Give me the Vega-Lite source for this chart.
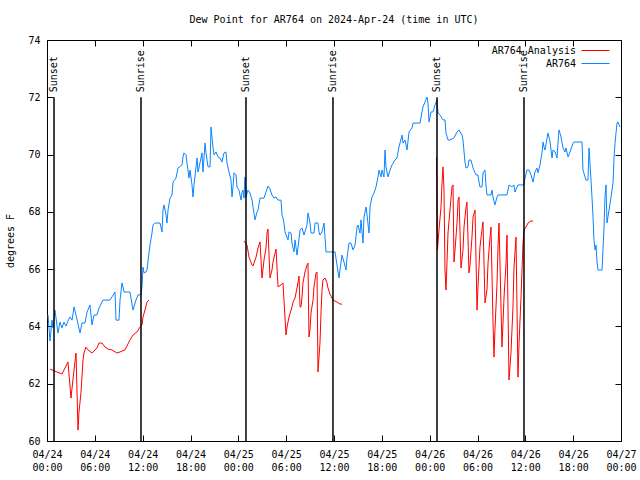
{
  "$schema": "https://vega.github.io/schema/vega-lite/v6.json",
  "autosize": "none",
  "width": 574,
  "height": 401,
  "padding": {"left": 47, "top": 40, "right": 19, "bottom": 39},
  "background": "white",
  "title": {"text": "Dew Point for AR764 on 2024-Apr-24 (time in UTC)", "font": "DejaVu Sans Mono", "fontSize": 10, "fontWeight": "normal", "color": "black", "offset": 10, "anchor": "middle"},
  "config": {
    "view": {"stroke": "black", "strokeWidth": 1},
    "font": "DejaVu Sans Mono",
    "axis": {"grid": false, "domain": false, "labelFont": "DejaVu Sans Mono", "labelFontSize": 10, "labelColor": "black", "tickColor": "black", "titleFont": "DejaVu Sans Mono", "titleFontSize": 10, "titleFontWeight": "normal", "titleColor": "black", "labelFlush": false, "labelOverlap": false}
  },
  "datasets": {
    "dew": [
      {"hour": 0.13, "dewpoint": 64.40, "series": "AR764", "segment": "obs"},
      {"hour": 0.38, "dewpoint": 63.49, "series": "AR764", "segment": "obs"},
      {"hour": 0.63, "dewpoint": 64.22, "series": "AR764", "segment": "obs"},
      {"hour": 0.75, "dewpoint": 63.95, "series": "AR764", "segment": "obs"},
      {"hour": 1.00, "dewpoint": 64.57, "series": "AR764", "segment": "obs"},
      {"hour": 1.38, "dewpoint": 63.77, "series": "AR764", "segment": "obs"},
      {"hour": 1.63, "dewpoint": 64.15, "series": "AR764", "segment": "obs"},
      {"hour": 1.88, "dewpoint": 63.95, "series": "AR764", "segment": "obs"},
      {"hour": 2.13, "dewpoint": 64.15, "series": "AR764", "segment": "obs"},
      {"hour": 2.38, "dewpoint": 64.01, "series": "AR764", "segment": "obs"},
      {"hour": 2.63, "dewpoint": 64.19, "series": "AR764", "segment": "obs"},
      {"hour": 2.89, "dewpoint": 64.33, "series": "AR764", "segment": "obs"},
      {"hour": 3.14, "dewpoint": 64.22, "series": "AR764", "segment": "obs"},
      {"hour": 3.39, "dewpoint": 64.68, "series": "AR764", "segment": "obs"},
      {"hour": 3.64, "dewpoint": 64.40, "series": "AR764", "segment": "obs"},
      {"hour": 4.14, "dewpoint": 63.77, "series": "AR764", "segment": "obs"},
      {"hour": 4.39, "dewpoint": 64.12, "series": "AR764", "segment": "obs"},
      {"hour": 4.77, "dewpoint": 64.12, "series": "AR764", "segment": "obs"},
      {"hour": 5.02, "dewpoint": 64.50, "series": "AR764", "segment": "obs"},
      {"hour": 5.39, "dewpoint": 64.75, "series": "AR764", "segment": "obs"},
      {"hour": 5.64, "dewpoint": 64.05, "series": "AR764", "segment": "obs"},
      {"hour": 5.90, "dewpoint": 64.40, "series": "AR764", "segment": "obs"},
      {"hour": 6.27, "dewpoint": 64.40, "series": "AR764", "segment": "obs"},
      {"hour": 6.52, "dewpoint": 64.64, "series": "AR764", "segment": "obs"},
      {"hour": 7.02, "dewpoint": 64.92, "series": "AR764", "segment": "obs"},
      {"hour": 7.90, "dewpoint": 64.92, "series": "AR764", "segment": "obs"},
      {"hour": 8.53, "dewpoint": 65.20, "series": "AR764", "segment": "obs"},
      {"hour": 8.66, "dewpoint": 64.22, "series": "AR764", "segment": "obs"},
      {"hour": 9.03, "dewpoint": 64.22, "series": "AR764", "segment": "obs"},
      {"hour": 9.16, "dewpoint": 64.92, "series": "AR764", "segment": "obs"},
      {"hour": 9.41, "dewpoint": 65.52, "series": "AR764", "segment": "obs"},
      {"hour": 9.66, "dewpoint": 65.20, "series": "AR764", "segment": "obs"},
      {"hour": 10.41, "dewpoint": 65.20, "series": "AR764", "segment": "obs"},
      {"hour": 10.79, "dewpoint": 64.57, "series": "AR764", "segment": "obs"},
      {"hour": 11.16, "dewpoint": 64.92, "series": "AR764", "segment": "obs"},
      {"hour": 11.42, "dewpoint": 65.10, "series": "AR764", "segment": "obs"},
      {"hour": 11.79, "dewpoint": 65.10, "series": "AR764", "segment": "obs"},
      {"hour": 11.92, "dewpoint": 65.38, "series": "AR764", "segment": "obs"},
      {"hour": 12.04, "dewpoint": 66.07, "series": "AR764", "segment": "obs"},
      {"hour": 12.17, "dewpoint": 65.87, "series": "AR764", "segment": "obs"},
      {"hour": 12.42, "dewpoint": 65.90, "series": "AR764", "segment": "obs"},
      {"hour": 12.54, "dewpoint": 65.97, "series": "AR764", "segment": "obs"},
      {"hour": 12.79, "dewpoint": 66.56, "series": "AR764", "segment": "obs"},
      {"hour": 12.92, "dewpoint": 66.84, "series": "AR764", "segment": "obs"},
      {"hour": 13.17, "dewpoint": 67.26, "series": "AR764", "segment": "obs"},
      {"hour": 13.30, "dewpoint": 67.54, "series": "AR764", "segment": "obs"},
      {"hour": 13.55, "dewpoint": 67.61, "series": "AR764", "segment": "obs"},
      {"hour": 14.17, "dewpoint": 67.61, "series": "AR764", "segment": "obs"},
      {"hour": 14.43, "dewpoint": 67.30, "series": "AR764", "segment": "obs"},
      {"hour": 14.55, "dewpoint": 68.06, "series": "AR764", "segment": "obs"},
      {"hour": 14.68, "dewpoint": 68.24, "series": "AR764", "segment": "obs"},
      {"hour": 14.93, "dewpoint": 67.89, "series": "AR764", "segment": "obs"},
      {"hour": 15.05, "dewpoint": 67.61, "series": "AR764", "segment": "obs"},
      {"hour": 15.18, "dewpoint": 68.06, "series": "AR764", "segment": "obs"},
      {"hour": 15.43, "dewpoint": 68.48, "series": "AR764", "segment": "obs"},
      {"hour": 15.68, "dewpoint": 68.59, "series": "AR764", "segment": "obs"},
      {"hour": 15.81, "dewpoint": 69.04, "series": "AR764", "segment": "obs"},
      {"hour": 16.18, "dewpoint": 69.18, "series": "AR764", "segment": "obs"},
      {"hour": 16.43, "dewpoint": 69.53, "series": "AR764", "segment": "obs"},
      {"hour": 16.68, "dewpoint": 69.57, "series": "AR764", "segment": "obs"},
      {"hour": 16.93, "dewpoint": 69.64, "series": "AR764", "segment": "obs"},
      {"hour": 17.06, "dewpoint": 69.92, "series": "AR764", "segment": "obs"},
      {"hour": 17.19, "dewpoint": 70.06, "series": "AR764", "segment": "obs"},
      {"hour": 17.44, "dewpoint": 69.99, "series": "AR764", "segment": "obs"},
      {"hour": 17.56, "dewpoint": 69.71, "series": "AR764", "segment": "obs"},
      {"hour": 17.81, "dewpoint": 69.18, "series": "AR764", "segment": "obs"},
      {"hour": 17.94, "dewpoint": 69.46, "series": "AR764", "segment": "obs"},
      {"hour": 18.19, "dewpoint": 68.94, "series": "AR764", "segment": "obs"},
      {"hour": 18.31, "dewpoint": 68.52, "series": "AR764", "segment": "obs"},
      {"hour": 18.44, "dewpoint": 68.94, "series": "AR764", "segment": "obs"},
      {"hour": 18.82, "dewpoint": 69.88, "series": "AR764", "segment": "obs"},
      {"hour": 18.94, "dewpoint": 69.39, "series": "AR764", "segment": "obs"},
      {"hour": 19.19, "dewpoint": 69.71, "series": "AR764", "segment": "obs"},
      {"hour": 19.44, "dewpoint": 70.06, "series": "AR764", "segment": "obs"},
      {"hour": 19.57, "dewpoint": 69.39, "series": "AR764", "segment": "obs"},
      {"hour": 19.82, "dewpoint": 70.40, "series": "AR764", "segment": "obs"},
      {"hour": 19.94, "dewpoint": 70.06, "series": "AR764", "segment": "obs"},
      {"hour": 20.20, "dewpoint": 69.57, "series": "AR764", "segment": "obs"},
      {"hour": 20.45, "dewpoint": 69.57, "series": "AR764", "segment": "obs"},
      {"hour": 20.57, "dewpoint": 70.96, "series": "AR764", "segment": "obs"},
      {"hour": 20.82, "dewpoint": 70.26, "series": "AR764", "segment": "obs"},
      {"hour": 20.95, "dewpoint": 69.99, "series": "AR764", "segment": "obs"},
      {"hour": 21.20, "dewpoint": 70.09, "series": "AR764", "segment": "obs"},
      {"hour": 21.45, "dewpoint": 69.92, "series": "AR764", "segment": "obs"},
      {"hour": 21.70, "dewpoint": 69.88, "series": "AR764", "segment": "obs"},
      {"hour": 21.95, "dewpoint": 69.74, "series": "AR764", "segment": "obs"},
      {"hour": 22.20, "dewpoint": 70.06, "series": "AR764", "segment": "obs"},
      {"hour": 22.45, "dewpoint": 70.09, "series": "AR764", "segment": "obs"},
      {"hour": 22.58, "dewpoint": 69.71, "series": "AR764", "segment": "obs"},
      {"hour": 22.83, "dewpoint": 69.39, "series": "AR764", "segment": "obs"},
      {"hour": 23.08, "dewpoint": 69.11, "series": "AR764", "segment": "obs"},
      {"hour": 23.21, "dewpoint": 68.52, "series": "AR764", "segment": "obs"},
      {"hour": 23.33, "dewpoint": 68.87, "series": "AR764", "segment": "obs"},
      {"hour": 23.46, "dewpoint": 69.36, "series": "AR764", "segment": "obs"},
      {"hour": 23.71, "dewpoint": 69.29, "series": "AR764", "segment": "obs"},
      {"hour": 23.83, "dewpoint": 68.87, "series": "AR764", "segment": "obs"},
      {"hour": 24.08, "dewpoint": 68.76, "series": "AR764", "segment": "obs"},
      {"hour": 24.34, "dewpoint": 68.41, "series": "AR764", "segment": "obs"},
      {"hour": 24.46, "dewpoint": 68.69, "series": "AR764", "segment": "obs"},
      {"hour": 24.59, "dewpoint": 68.76, "series": "AR764", "segment": "obs"},
      {"hour": 24.71, "dewpoint": 68.48, "series": "AR764", "segment": "obs"},
      {"hour": 24.84, "dewpoint": 69.22, "series": "AR764", "segment": "obs"},
      {"hour": 24.96, "dewpoint": 68.52, "series": "AR764", "segment": "obs"},
      {"hour": 25.21, "dewpoint": 68.76, "series": "AR764", "segment": "obs"},
      {"hour": 25.46, "dewpoint": 68.66, "series": "AR764", "segment": "obs"},
      {"hour": 25.72, "dewpoint": 68.41, "series": "AR764", "segment": "obs"},
      {"hour": 25.84, "dewpoint": 68.17, "series": "AR764", "segment": "obs"},
      {"hour": 26.09, "dewpoint": 67.72, "series": "AR764", "segment": "obs"},
      {"hour": 26.34, "dewpoint": 67.99, "series": "AR764", "segment": "obs"},
      {"hour": 26.47, "dewpoint": 68.06, "series": "AR764", "segment": "obs"},
      {"hour": 26.72, "dewpoint": 68.48, "series": "AR764", "segment": "obs"},
      {"hour": 27.22, "dewpoint": 68.48, "series": "AR764", "segment": "obs"},
      {"hour": 27.47, "dewpoint": 68.69, "series": "AR764", "segment": "obs"},
      {"hour": 27.72, "dewpoint": 68.90, "series": "AR764", "segment": "obs"},
      {"hour": 27.97, "dewpoint": 68.80, "series": "AR764", "segment": "obs"},
      {"hour": 28.22, "dewpoint": 68.59, "series": "AR764", "segment": "obs"},
      {"hour": 28.47, "dewpoint": 68.48, "series": "AR764", "segment": "obs"},
      {"hour": 28.73, "dewpoint": 68.52, "series": "AR764", "segment": "obs"},
      {"hour": 28.98, "dewpoint": 68.41, "series": "AR764", "segment": "obs"},
      {"hour": 29.35, "dewpoint": 68.41, "series": "AR764", "segment": "obs"},
      {"hour": 29.48, "dewpoint": 67.89, "series": "AR764", "segment": "obs"},
      {"hour": 29.60, "dewpoint": 67.79, "series": "AR764", "segment": "obs"},
      {"hour": 29.73, "dewpoint": 67.61, "series": "AR764", "segment": "obs"},
      {"hour": 29.85, "dewpoint": 67.30, "series": "AR764", "segment": "obs"},
      {"hour": 30.23, "dewpoint": 67.02, "series": "AR764", "segment": "obs"},
      {"hour": 30.36, "dewpoint": 67.30, "series": "AR764", "segment": "obs"},
      {"hour": 30.61, "dewpoint": 67.26, "series": "AR764", "segment": "obs"},
      {"hour": 30.73, "dewpoint": 66.91, "series": "AR764", "segment": "obs"},
      {"hour": 30.98, "dewpoint": 66.60, "series": "AR764", "segment": "obs"},
      {"hour": 31.11, "dewpoint": 67.02, "series": "AR764", "segment": "obs"},
      {"hour": 31.36, "dewpoint": 66.49, "series": "AR764", "segment": "obs"},
      {"hour": 31.49, "dewpoint": 66.77, "series": "AR764", "segment": "obs"},
      {"hour": 31.74, "dewpoint": 67.37, "series": "AR764", "segment": "obs"},
      {"hour": 31.99, "dewpoint": 67.44, "series": "AR764", "segment": "obs"},
      {"hour": 32.24, "dewpoint": 67.19, "series": "AR764", "segment": "obs"},
      {"hour": 32.61, "dewpoint": 67.54, "series": "AR764", "segment": "obs"},
      {"hour": 32.74, "dewpoint": 67.96, "series": "AR764", "segment": "obs"},
      {"hour": 32.99, "dewpoint": 67.61, "series": "AR764", "segment": "obs"},
      {"hour": 33.12, "dewpoint": 67.26, "series": "AR764", "segment": "obs"},
      {"hour": 33.49, "dewpoint": 67.26, "series": "AR764", "segment": "obs"},
      {"hour": 33.62, "dewpoint": 67.61, "series": "AR764", "segment": "obs"},
      {"hour": 33.99, "dewpoint": 67.61, "series": "AR764", "segment": "obs"},
      {"hour": 34.12, "dewpoint": 67.30, "series": "AR764", "segment": "obs"},
      {"hour": 34.24, "dewpoint": 67.19, "series": "AR764", "segment": "obs"},
      {"hour": 34.50, "dewpoint": 67.30, "series": "AR764", "segment": "obs"},
      {"hour": 34.75, "dewpoint": 67.61, "series": "AR764", "segment": "obs"},
      {"hour": 34.87, "dewpoint": 67.12, "series": "AR764", "segment": "obs"},
      {"hour": 35.00, "dewpoint": 66.60, "series": "AR764", "segment": "obs"},
      {"hour": 36.13, "dewpoint": 66.60, "series": "AR764", "segment": "obs"},
      {"hour": 36.38, "dewpoint": 66.14, "series": "AR764", "segment": "obs"},
      {"hour": 36.63, "dewpoint": 65.69, "series": "AR764", "segment": "obs"},
      {"hour": 36.75, "dewpoint": 65.97, "series": "AR764", "segment": "obs"},
      {"hour": 37.00, "dewpoint": 66.49, "series": "AR764", "segment": "obs"},
      {"hour": 37.25, "dewpoint": 66.25, "series": "AR764", "segment": "obs"},
      {"hour": 37.51, "dewpoint": 65.97, "series": "AR764", "segment": "obs"},
      {"hour": 37.63, "dewpoint": 66.39, "series": "AR764", "segment": "obs"},
      {"hour": 37.88, "dewpoint": 66.91, "series": "AR764", "segment": "obs"},
      {"hour": 38.13, "dewpoint": 66.91, "series": "AR764", "segment": "obs"},
      {"hour": 38.38, "dewpoint": 66.67, "series": "AR764", "segment": "obs"},
      {"hour": 38.64, "dewpoint": 66.84, "series": "AR764", "segment": "obs"},
      {"hour": 38.89, "dewpoint": 67.47, "series": "AR764", "segment": "obs"},
      {"hour": 39.01, "dewpoint": 67.54, "series": "AR764", "segment": "obs"},
      {"hour": 39.26, "dewpoint": 67.26, "series": "AR764", "segment": "obs"},
      {"hour": 39.39, "dewpoint": 67.72, "series": "AR764", "segment": "obs"},
      {"hour": 39.64, "dewpoint": 66.91, "series": "AR764", "segment": "obs"},
      {"hour": 39.76, "dewpoint": 67.82, "series": "AR764", "segment": "obs"},
      {"hour": 40.02, "dewpoint": 68.17, "series": "AR764", "segment": "obs"},
      {"hour": 40.14, "dewpoint": 67.89, "series": "AR764", "segment": "obs"},
      {"hour": 40.39, "dewpoint": 67.26, "series": "AR764", "segment": "obs"},
      {"hour": 40.52, "dewpoint": 68.17, "series": "AR764", "segment": "obs"},
      {"hour": 40.77, "dewpoint": 68.52, "series": "AR764", "segment": "obs"},
      {"hour": 41.02, "dewpoint": 68.66, "series": "AR764", "segment": "obs"},
      {"hour": 41.27, "dewpoint": 68.87, "series": "AR764", "segment": "obs"},
      {"hour": 41.52, "dewpoint": 69.22, "series": "AR764", "segment": "obs"},
      {"hour": 41.65, "dewpoint": 69.46, "series": "AR764", "segment": "obs"},
      {"hour": 41.90, "dewpoint": 69.22, "series": "AR764", "segment": "obs"},
      {"hour": 42.02, "dewpoint": 69.46, "series": "AR764", "segment": "obs"},
      {"hour": 42.27, "dewpoint": 69.22, "series": "AR764", "segment": "obs"},
      {"hour": 42.40, "dewpoint": 70.16, "series": "AR764", "segment": "obs"},
      {"hour": 42.52, "dewpoint": 69.57, "series": "AR764", "segment": "obs"},
      {"hour": 42.77, "dewpoint": 69.22, "series": "AR764", "segment": "obs"},
      {"hour": 43.03, "dewpoint": 69.46, "series": "AR764", "segment": "obs"},
      {"hour": 43.28, "dewpoint": 69.64, "series": "AR764", "segment": "obs"},
      {"hour": 43.65, "dewpoint": 69.81, "series": "AR764", "segment": "obs"},
      {"hour": 43.90, "dewpoint": 69.88, "series": "AR764", "segment": "obs"},
      {"hour": 44.15, "dewpoint": 70.26, "series": "AR764", "segment": "obs"},
      {"hour": 44.53, "dewpoint": 70.68, "series": "AR764", "segment": "obs"},
      {"hour": 44.66, "dewpoint": 70.40, "series": "AR764", "segment": "obs"},
      {"hour": 44.91, "dewpoint": 70.51, "series": "AR764", "segment": "obs"},
      {"hour": 45.16, "dewpoint": 70.16, "series": "AR764", "segment": "obs"},
      {"hour": 45.41, "dewpoint": 70.79, "series": "AR764", "segment": "obs"},
      {"hour": 45.79, "dewpoint": 70.93, "series": "AR764", "segment": "obs"},
      {"hour": 45.91, "dewpoint": 71.10, "series": "AR764", "segment": "obs"},
      {"hour": 46.79, "dewpoint": 71.10, "series": "AR764", "segment": "obs"},
      {"hour": 47.04, "dewpoint": 71.49, "series": "AR764", "segment": "obs"},
      {"hour": 47.16, "dewpoint": 71.66, "series": "AR764", "segment": "obs"},
      {"hour": 47.42, "dewpoint": 71.84, "series": "AR764", "segment": "obs"},
      {"hour": 47.67, "dewpoint": 72.01, "series": "AR764", "segment": "obs"},
      {"hour": 47.79, "dewpoint": 71.80, "series": "AR764", "segment": "obs"},
      {"hour": 47.92, "dewpoint": 71.14, "series": "AR764", "segment": "obs"},
      {"hour": 48.17, "dewpoint": 71.49, "series": "AR764", "segment": "obs"},
      {"hour": 48.42, "dewpoint": 71.49, "series": "AR764", "segment": "obs"},
      {"hour": 48.67, "dewpoint": 71.73, "series": "AR764", "segment": "obs"},
      {"hour": 48.92, "dewpoint": 71.91, "series": "AR764", "segment": "obs"},
      {"hour": 49.05, "dewpoint": 71.45, "series": "AR764", "segment": "obs"},
      {"hour": 49.30, "dewpoint": 71.38, "series": "AR764", "segment": "obs"},
      {"hour": 49.67, "dewpoint": 71.21, "series": "AR764", "segment": "obs"},
      {"hour": 49.92, "dewpoint": 71.21, "series": "AR764", "segment": "obs"},
      {"hour": 50.05, "dewpoint": 70.75, "series": "AR764", "segment": "obs"},
      {"hour": 50.30, "dewpoint": 70.51, "series": "AR764", "segment": "obs"},
      {"hour": 50.55, "dewpoint": 70.51, "series": "AR764", "segment": "obs"},
      {"hour": 51.05, "dewpoint": 70.58, "series": "AR764", "segment": "obs"},
      {"hour": 51.43, "dewpoint": 70.79, "series": "AR764", "segment": "obs"},
      {"hour": 51.68, "dewpoint": 70.86, "series": "AR764", "segment": "obs"},
      {"hour": 52.06, "dewpoint": 70.68, "series": "AR764", "segment": "obs"},
      {"hour": 52.18, "dewpoint": 70.51, "series": "AR764", "segment": "obs"},
      {"hour": 52.43, "dewpoint": 69.74, "series": "AR764", "segment": "obs"},
      {"hour": 52.56, "dewpoint": 69.53, "series": "AR764", "segment": "obs"},
      {"hour": 52.81, "dewpoint": 69.57, "series": "AR764", "segment": "obs"},
      {"hour": 52.93, "dewpoint": 69.81, "series": "AR764", "segment": "obs"},
      {"hour": 53.18, "dewpoint": 69.81, "series": "AR764", "segment": "obs"},
      {"hour": 53.44, "dewpoint": 69.53, "series": "AR764", "segment": "obs"},
      {"hour": 53.81, "dewpoint": 69.29, "series": "AR764", "segment": "obs"},
      {"hour": 54.06, "dewpoint": 69.29, "series": "AR764", "segment": "obs"},
      {"hour": 54.19, "dewpoint": 69.04, "series": "AR764", "segment": "obs"},
      {"hour": 54.31, "dewpoint": 68.87, "series": "AR764", "segment": "obs"},
      {"hour": 54.56, "dewpoint": 68.87, "series": "AR764", "segment": "obs"},
      {"hour": 54.69, "dewpoint": 69.36, "series": "AR764", "segment": "obs"},
      {"hour": 54.94, "dewpoint": 69.46, "series": "AR764", "segment": "obs"},
      {"hour": 55.06, "dewpoint": 68.94, "series": "AR764", "segment": "obs"},
      {"hour": 55.19, "dewpoint": 68.59, "series": "AR764", "segment": "obs"},
      {"hour": 55.69, "dewpoint": 68.59, "series": "AR764", "segment": "obs"},
      {"hour": 55.82, "dewpoint": 68.76, "series": "AR764", "segment": "obs"},
      {"hour": 55.94, "dewpoint": 68.52, "series": "AR764", "segment": "obs"},
      {"hour": 56.19, "dewpoint": 68.24, "series": "AR764", "segment": "obs"},
      {"hour": 56.45, "dewpoint": 68.52, "series": "AR764", "segment": "obs"},
      {"hour": 56.57, "dewpoint": 68.59, "series": "AR764", "segment": "obs"},
      {"hour": 57.70, "dewpoint": 68.59, "series": "AR764", "segment": "obs"},
      {"hour": 57.95, "dewpoint": 68.94, "series": "AR764", "segment": "obs"},
      {"hour": 58.32, "dewpoint": 68.87, "series": "AR764", "segment": "obs"},
      {"hour": 58.57, "dewpoint": 68.94, "series": "AR764", "segment": "obs"},
      {"hour": 58.70, "dewpoint": 68.69, "series": "AR764", "segment": "obs"},
      {"hour": 58.96, "dewpoint": 68.87, "series": "AR764", "segment": "obs"},
      {"hour": 59.08, "dewpoint": 68.94, "series": "AR764", "segment": "obs"},
      {"hour": 59.83, "dewpoint": 68.94, "series": "AR764", "segment": "obs"},
      {"hour": 59.96, "dewpoint": 69.18, "series": "AR764", "segment": "obs"},
      {"hour": 60.21, "dewpoint": 69.46, "series": "AR764", "segment": "obs"},
      {"hour": 60.46, "dewpoint": 69.46, "series": "AR764", "segment": "obs"},
      {"hour": 60.71, "dewpoint": 69.29, "series": "AR764", "segment": "obs"},
      {"hour": 60.96, "dewpoint": 69.04, "series": "AR764", "segment": "obs"},
      {"hour": 61.21, "dewpoint": 69.39, "series": "AR764", "segment": "obs"},
      {"hour": 61.46, "dewpoint": 69.53, "series": "AR764", "segment": "obs"},
      {"hour": 61.59, "dewpoint": 69.36, "series": "AR764", "segment": "obs"},
      {"hour": 61.84, "dewpoint": 69.64, "series": "AR764", "segment": "obs"},
      {"hour": 62.09, "dewpoint": 70.06, "series": "AR764", "segment": "obs"},
      {"hour": 62.22, "dewpoint": 70.44, "series": "AR764", "segment": "obs"},
      {"hour": 62.34, "dewpoint": 70.26, "series": "AR764", "segment": "obs"},
      {"hour": 62.47, "dewpoint": 70.16, "series": "AR764", "segment": "obs"},
      {"hour": 62.72, "dewpoint": 70.58, "series": "AR764", "segment": "obs"},
      {"hour": 62.85, "dewpoint": 70.75, "series": "AR764", "segment": "obs"},
      {"hour": 63.10, "dewpoint": 70.44, "series": "AR764", "segment": "obs"},
      {"hour": 63.35, "dewpoint": 69.88, "series": "AR764", "segment": "obs"},
      {"hour": 63.47, "dewpoint": 70.16, "series": "AR764", "segment": "obs"},
      {"hour": 63.73, "dewpoint": 70.09, "series": "AR764", "segment": "obs"},
      {"hour": 63.98, "dewpoint": 69.88, "series": "AR764", "segment": "obs"},
      {"hour": 64.10, "dewpoint": 70.44, "series": "AR764", "segment": "obs"},
      {"hour": 64.23, "dewpoint": 70.86, "series": "AR764", "segment": "obs"},
      {"hour": 64.48, "dewpoint": 70.61, "series": "AR764", "segment": "obs"},
      {"hour": 64.73, "dewpoint": 70.23, "series": "AR764", "segment": "obs"},
      {"hour": 64.98, "dewpoint": 70.09, "series": "AR764", "segment": "obs"},
      {"hour": 65.10, "dewpoint": 70.23, "series": "AR764", "segment": "obs"},
      {"hour": 65.36, "dewpoint": 69.92, "series": "AR764", "segment": "obs"},
      {"hour": 65.61, "dewpoint": 70.09, "series": "AR764", "segment": "obs"},
      {"hour": 65.98, "dewpoint": 70.40, "series": "AR764", "segment": "obs"},
      {"hour": 66.11, "dewpoint": 70.44, "series": "AR764", "segment": "obs"},
      {"hour": 67.11, "dewpoint": 70.44, "series": "AR764", "segment": "obs"},
      {"hour": 67.23, "dewpoint": 69.46, "series": "AR764", "segment": "obs"},
      {"hour": 67.61, "dewpoint": 69.11, "series": "AR764", "segment": "obs"},
      {"hour": 67.86, "dewpoint": 69.11, "series": "AR764", "segment": "obs"},
      {"hour": 67.99, "dewpoint": 70.23, "series": "AR764", "segment": "obs"},
      {"hour": 68.11, "dewpoint": 69.71, "series": "AR764", "segment": "obs"},
      {"hour": 68.36, "dewpoint": 68.52, "series": "AR764", "segment": "obs"},
      {"hour": 68.49, "dewpoint": 67.82, "series": "AR764", "segment": "obs"},
      {"hour": 68.61, "dewpoint": 67.02, "series": "AR764", "segment": "obs"},
      {"hour": 68.74, "dewpoint": 66.67, "series": "AR764", "segment": "obs"},
      {"hour": 68.87, "dewpoint": 66.84, "series": "AR764", "segment": "obs"},
      {"hour": 68.99, "dewpoint": 66.25, "series": "AR764", "segment": "obs"},
      {"hour": 69.12, "dewpoint": 65.97, "series": "AR764", "segment": "obs"},
      {"hour": 69.62, "dewpoint": 65.97, "series": "AR764", "segment": "obs"},
      {"hour": 69.74, "dewpoint": 66.67, "series": "AR764", "segment": "obs"},
      {"hour": 69.87, "dewpoint": 67.47, "series": "AR764", "segment": "obs"},
      {"hour": 69.99, "dewpoint": 68.52, "series": "AR764", "segment": "obs"},
      {"hour": 70.12, "dewpoint": 68.94, "series": "AR764", "segment": "obs"},
      {"hour": 70.24, "dewpoint": 67.61, "series": "AR764", "segment": "obs"},
      {"hour": 70.50, "dewpoint": 68.06, "series": "AR764", "segment": "obs"},
      {"hour": 70.75, "dewpoint": 68.52, "series": "AR764", "segment": "obs"},
      {"hour": 71.00, "dewpoint": 69.01, "series": "AR764", "segment": "obs"},
      {"hour": 71.13, "dewpoint": 69.92, "series": "AR764", "segment": "obs"},
      {"hour": 71.25, "dewpoint": 70.40, "series": "AR764", "segment": "obs"},
      {"hour": 71.50, "dewpoint": 71.10, "series": "AR764", "segment": "obs"},
      {"hour": 71.62, "dewpoint": 71.14, "series": "AR764", "segment": "obs"},
      {"hour": 71.88, "dewpoint": 70.96, "series": "AR764", "segment": "obs"},

      {"hour": 0.38, "dewpoint": 62.51, "series": "AR764 Analysis", "segment": "an1"},
      {"hour": 1.25, "dewpoint": 62.41, "series": "AR764 Analysis", "segment": "an1"},
      {"hour": 1.88, "dewpoint": 62.34, "series": "AR764 Analysis", "segment": "an1"},
      {"hour": 2.26, "dewpoint": 62.55, "series": "AR764 Analysis", "segment": "an1"},
      {"hour": 2.63, "dewpoint": 62.76, "series": "AR764 Analysis", "segment": "an1"},
      {"hour": 3.01, "dewpoint": 61.50, "series": "AR764 Analysis", "segment": "an1"},
      {"hour": 3.14, "dewpoint": 61.85, "series": "AR764 Analysis", "segment": "an1"},
      {"hour": 3.39, "dewpoint": 62.48, "series": "AR764 Analysis", "segment": "an1"},
      {"hour": 3.64, "dewpoint": 63.07, "series": "AR764 Analysis", "segment": "an1"},
      {"hour": 3.89, "dewpoint": 60.38, "series": "AR764 Analysis", "segment": "an1"},
      {"hour": 4.01, "dewpoint": 61.01, "series": "AR764 Analysis", "segment": "an1"},
      {"hour": 4.26, "dewpoint": 61.68, "series": "AR764 Analysis", "segment": "an1"},
      {"hour": 4.52, "dewpoint": 62.83, "series": "AR764 Analysis", "segment": "an1"},
      {"hour": 4.64, "dewpoint": 63.07, "series": "AR764 Analysis", "segment": "an1"},
      {"hour": 4.89, "dewpoint": 63.28, "series": "AR764 Analysis", "segment": "an1"},
      {"hour": 5.14, "dewpoint": 63.18, "series": "AR764 Analysis", "segment": "an1"},
      {"hour": 5.64, "dewpoint": 63.07, "series": "AR764 Analysis", "segment": "an1"},
      {"hour": 6.27, "dewpoint": 63.25, "series": "AR764 Analysis", "segment": "an1"},
      {"hour": 6.52, "dewpoint": 63.42, "series": "AR764 Analysis", "segment": "an1"},
      {"hour": 6.90, "dewpoint": 63.42, "series": "AR764 Analysis", "segment": "an1"},
      {"hour": 7.28, "dewpoint": 63.28, "series": "AR764 Analysis", "segment": "an1"},
      {"hour": 7.65, "dewpoint": 63.21, "series": "AR764 Analysis", "segment": "an1"},
      {"hour": 8.15, "dewpoint": 63.18, "series": "AR764 Analysis", "segment": "an1"},
      {"hour": 8.78, "dewpoint": 63.07, "series": "AR764 Analysis", "segment": "an1"},
      {"hour": 9.16, "dewpoint": 63.11, "series": "AR764 Analysis", "segment": "an1"},
      {"hour": 9.78, "dewpoint": 63.18, "series": "AR764 Analysis", "segment": "an1"},
      {"hour": 10.41, "dewpoint": 63.53, "series": "AR764 Analysis", "segment": "an1"},
      {"hour": 10.79, "dewpoint": 63.70, "series": "AR764 Analysis", "segment": "an1"},
      {"hour": 11.29, "dewpoint": 63.81, "series": "AR764 Analysis", "segment": "an1"},
      {"hour": 11.67, "dewpoint": 63.98, "series": "AR764 Analysis", "segment": "an1"},
      {"hour": 11.92, "dewpoint": 64.05, "series": "AR764 Analysis", "segment": "an1"},
      {"hour": 12.04, "dewpoint": 64.33, "series": "AR764 Analysis", "segment": "an1"},
      {"hour": 12.29, "dewpoint": 64.57, "series": "AR764 Analysis", "segment": "an1"},
      {"hour": 12.54, "dewpoint": 64.85, "series": "AR764 Analysis", "segment": "an1"},
      {"hour": 12.79, "dewpoint": 64.92, "series": "AR764 Analysis", "segment": "an1"},

      {"hour": 24.71, "dewpoint": 66.98, "series": "AR764 Analysis", "segment": "an2"},
      {"hour": 25.09, "dewpoint": 66.84, "series": "AR764 Analysis", "segment": "an2"},
      {"hour": 25.34, "dewpoint": 66.42, "series": "AR764 Analysis", "segment": "an2"},
      {"hour": 25.72, "dewpoint": 66.14, "series": "AR764 Analysis", "segment": "an2"},
      {"hour": 25.84, "dewpoint": 66.11, "series": "AR764 Analysis", "segment": "an2"},
      {"hour": 26.22, "dewpoint": 66.42, "series": "AR764 Analysis", "segment": "an2"},
      {"hour": 26.47, "dewpoint": 66.74, "series": "AR764 Analysis", "segment": "an2"},
      {"hour": 26.72, "dewpoint": 66.95, "series": "AR764 Analysis", "segment": "an2"},
      {"hour": 26.97, "dewpoint": 65.69, "series": "AR764 Analysis", "segment": "an2"},
      {"hour": 27.22, "dewpoint": 66.32, "series": "AR764 Analysis", "segment": "an2"},
      {"hour": 27.47, "dewpoint": 66.74, "series": "AR764 Analysis", "segment": "an2"},
      {"hour": 27.60, "dewpoint": 67.26, "series": "AR764 Analysis", "segment": "an2"},
      {"hour": 27.72, "dewpoint": 67.40, "series": "AR764 Analysis", "segment": "an2"},
      {"hour": 27.97, "dewpoint": 65.69, "series": "AR764 Analysis", "segment": "an2"},
      {"hour": 28.22, "dewpoint": 65.97, "series": "AR764 Analysis", "segment": "an2"},
      {"hour": 28.35, "dewpoint": 66.25, "series": "AR764 Analysis", "segment": "an2"},
      {"hour": 28.60, "dewpoint": 66.56, "series": "AR764 Analysis", "segment": "an2"},
      {"hour": 28.73, "dewpoint": 66.70, "series": "AR764 Analysis", "segment": "an2"},
      {"hour": 28.98, "dewpoint": 65.38, "series": "AR764 Analysis", "segment": "an2"},
      {"hour": 29.35, "dewpoint": 65.45, "series": "AR764 Analysis", "segment": "an2"},
      {"hour": 29.60, "dewpoint": 65.52, "series": "AR764 Analysis", "segment": "an2"},
      {"hour": 29.98, "dewpoint": 63.70, "series": "AR764 Analysis", "segment": "an2"},
      {"hour": 30.11, "dewpoint": 63.98, "series": "AR764 Analysis", "segment": "an2"},
      {"hour": 30.36, "dewpoint": 64.33, "series": "AR764 Analysis", "segment": "an2"},
      {"hour": 30.73, "dewpoint": 64.68, "series": "AR764 Analysis", "segment": "an2"},
      {"hour": 30.86, "dewpoint": 64.85, "series": "AR764 Analysis", "segment": "an2"},
      {"hour": 31.11, "dewpoint": 64.99, "series": "AR764 Analysis", "segment": "an2"},
      {"hour": 31.36, "dewpoint": 65.34, "series": "AR764 Analysis", "segment": "an2"},
      {"hour": 31.49, "dewpoint": 65.55, "series": "AR764 Analysis", "segment": "an2"},
      {"hour": 31.61, "dewpoint": 65.76, "series": "AR764 Analysis", "segment": "an2"},
      {"hour": 31.74, "dewpoint": 64.68, "series": "AR764 Analysis", "segment": "an2"},
      {"hour": 31.86, "dewpoint": 64.68, "series": "AR764 Analysis", "segment": "an2"},
      {"hour": 31.99, "dewpoint": 65.03, "series": "AR764 Analysis", "segment": "an2"},
      {"hour": 32.11, "dewpoint": 65.52, "series": "AR764 Analysis", "segment": "an2"},
      {"hour": 32.36, "dewpoint": 65.90, "series": "AR764 Analysis", "segment": "an2"},
      {"hour": 32.61, "dewpoint": 66.14, "series": "AR764 Analysis", "segment": "an2"},
      {"hour": 32.74, "dewpoint": 66.21, "series": "AR764 Analysis", "segment": "an2"},
      {"hour": 32.86, "dewpoint": 63.63, "series": "AR764 Analysis", "segment": "an2"},
      {"hour": 32.99, "dewpoint": 63.88, "series": "AR764 Analysis", "segment": "an2"},
      {"hour": 33.12, "dewpoint": 64.47, "series": "AR764 Analysis", "segment": "an2"},
      {"hour": 33.37, "dewpoint": 64.92, "series": "AR764 Analysis", "segment": "an2"},
      {"hour": 33.49, "dewpoint": 65.38, "series": "AR764 Analysis", "segment": "an2"},
      {"hour": 33.62, "dewpoint": 65.62, "series": "AR764 Analysis", "segment": "an2"},
      {"hour": 33.74, "dewpoint": 65.87, "series": "AR764 Analysis", "segment": "an2"},
      {"hour": 33.87, "dewpoint": 65.90, "series": "AR764 Analysis", "segment": "an2"},
      {"hour": 33.99, "dewpoint": 62.41, "series": "AR764 Analysis", "segment": "an2"},
      {"hour": 34.12, "dewpoint": 62.93, "series": "AR764 Analysis", "segment": "an2"},
      {"hour": 34.24, "dewpoint": 63.42, "series": "AR764 Analysis", "segment": "an2"},
      {"hour": 34.37, "dewpoint": 64.47, "series": "AR764 Analysis", "segment": "an2"},
      {"hour": 34.50, "dewpoint": 65.27, "series": "AR764 Analysis", "segment": "an2"},
      {"hour": 34.62, "dewpoint": 65.62, "series": "AR764 Analysis", "segment": "an2"},
      {"hour": 34.87, "dewpoint": 65.69, "series": "AR764 Analysis", "segment": "an2"},
      {"hour": 35.12, "dewpoint": 65.52, "series": "AR764 Analysis", "segment": "an2"},
      {"hour": 35.25, "dewpoint": 65.34, "series": "AR764 Analysis", "segment": "an2"},
      {"hour": 35.50, "dewpoint": 65.13, "series": "AR764 Analysis", "segment": "an2"},
      {"hour": 35.75, "dewpoint": 64.99, "series": "AR764 Analysis", "segment": "an2"},
      {"hour": 35.87, "dewpoint": 64.92, "series": "AR764 Analysis", "segment": "an2"},
      {"hour": 36.38, "dewpoint": 64.85, "series": "AR764 Analysis", "segment": "an2"},
      {"hour": 36.75, "dewpoint": 64.78, "series": "AR764 Analysis", "segment": "an2"},
      {"hour": 37.00, "dewpoint": 64.78, "series": "AR764 Analysis", "segment": "an2"},

      {"hour": 48.86, "dewpoint": 69.92, "series": "AR764 Analysis", "segment": "an3"},
      {"hour": 48.92, "dewpoint": 68.34, "series": "AR764 Analysis", "segment": "an3"},
      {"hour": 48.98, "dewpoint": 66.67, "series": "AR764 Analysis", "segment": "an3"},
      {"hour": 49.17, "dewpoint": 67.37, "series": "AR764 Analysis", "segment": "an3"},
      {"hour": 49.42, "dewpoint": 68.17, "series": "AR764 Analysis", "segment": "an3"},
      {"hour": 49.55, "dewpoint": 69.01, "series": "AR764 Analysis", "segment": "an3"},
      {"hour": 49.67, "dewpoint": 69.57, "series": "AR764 Analysis", "segment": "an3"},
      {"hour": 49.80, "dewpoint": 68.76, "series": "AR764 Analysis", "segment": "an3"},
      {"hour": 49.92, "dewpoint": 65.97, "series": "AR764 Analysis", "segment": "an3"},
      {"hour": 50.05, "dewpoint": 65.27, "series": "AR764 Analysis", "segment": "an3"},
      {"hour": 50.17, "dewpoint": 66.21, "series": "AR764 Analysis", "segment": "an3"},
      {"hour": 50.30, "dewpoint": 67.26, "series": "AR764 Analysis", "segment": "an3"},
      {"hour": 50.55, "dewpoint": 68.06, "series": "AR764 Analysis", "segment": "an3"},
      {"hour": 50.80, "dewpoint": 68.87, "series": "AR764 Analysis", "segment": "an3"},
      {"hour": 50.93, "dewpoint": 68.94, "series": "AR764 Analysis", "segment": "an3"},
      {"hour": 51.05, "dewpoint": 66.25, "series": "AR764 Analysis", "segment": "an3"},
      {"hour": 51.18, "dewpoint": 66.67, "series": "AR764 Analysis", "segment": "an3"},
      {"hour": 51.43, "dewpoint": 67.61, "series": "AR764 Analysis", "segment": "an3"},
      {"hour": 51.56, "dewpoint": 68.41, "series": "AR764 Analysis", "segment": "an3"},
      {"hour": 51.68, "dewpoint": 68.52, "series": "AR764 Analysis", "segment": "an3"},
      {"hour": 51.93, "dewpoint": 66.04, "series": "AR764 Analysis", "segment": "an3"},
      {"hour": 52.18, "dewpoint": 66.67, "series": "AR764 Analysis", "segment": "an3"},
      {"hour": 52.31, "dewpoint": 67.47, "series": "AR764 Analysis", "segment": "an3"},
      {"hour": 52.56, "dewpoint": 68.17, "series": "AR764 Analysis", "segment": "an3"},
      {"hour": 52.68, "dewpoint": 68.34, "series": "AR764 Analysis", "segment": "an3"},
      {"hour": 52.93, "dewpoint": 65.87, "series": "AR764 Analysis", "segment": "an3"},
      {"hour": 53.06, "dewpoint": 66.14, "series": "AR764 Analysis", "segment": "an3"},
      {"hour": 53.31, "dewpoint": 67.12, "series": "AR764 Analysis", "segment": "an3"},
      {"hour": 53.44, "dewpoint": 67.82, "series": "AR764 Analysis", "segment": "an3"},
      {"hour": 53.69, "dewpoint": 68.06, "series": "AR764 Analysis", "segment": "an3"},
      {"hour": 53.94, "dewpoint": 64.57, "series": "AR764 Analysis", "segment": "an3"},
      {"hour": 54.06, "dewpoint": 65.38, "series": "AR764 Analysis", "segment": "an3"},
      {"hour": 54.31, "dewpoint": 66.77, "series": "AR764 Analysis", "segment": "an3"},
      {"hour": 54.56, "dewpoint": 67.37, "series": "AR764 Analysis", "segment": "an3"},
      {"hour": 54.69, "dewpoint": 67.65, "series": "AR764 Analysis", "segment": "an3"},
      {"hour": 54.94, "dewpoint": 64.82, "series": "AR764 Analysis", "segment": "an3"},
      {"hour": 55.19, "dewpoint": 65.27, "series": "AR764 Analysis", "segment": "an3"},
      {"hour": 55.32, "dewpoint": 66.21, "series": "AR764 Analysis", "segment": "an3"},
      {"hour": 55.57, "dewpoint": 67.12, "series": "AR764 Analysis", "segment": "an3"},
      {"hour": 55.69, "dewpoint": 67.47, "series": "AR764 Analysis", "segment": "an3"},
      {"hour": 55.94, "dewpoint": 64.22, "series": "AR764 Analysis", "segment": "an3"},
      {"hour": 56.07, "dewpoint": 62.93, "series": "AR764 Analysis", "segment": "an3"},
      {"hour": 56.19, "dewpoint": 63.88, "series": "AR764 Analysis", "segment": "an3"},
      {"hour": 56.45, "dewpoint": 65.52, "series": "AR764 Analysis", "segment": "an3"},
      {"hour": 56.57, "dewpoint": 66.77, "series": "AR764 Analysis", "segment": "an3"},
      {"hour": 56.70, "dewpoint": 67.61, "series": "AR764 Analysis", "segment": "an3"},
      {"hour": 57.07, "dewpoint": 63.28, "series": "AR764 Analysis", "segment": "an3"},
      {"hour": 57.20, "dewpoint": 64.12, "series": "AR764 Analysis", "segment": "an3"},
      {"hour": 57.33, "dewpoint": 65.03, "series": "AR764 Analysis", "segment": "an3"},
      {"hour": 57.58, "dewpoint": 66.21, "series": "AR764 Analysis", "segment": "an3"},
      {"hour": 57.70, "dewpoint": 67.19, "series": "AR764 Analysis", "segment": "an3"},
      {"hour": 57.95, "dewpoint": 62.13, "series": "AR764 Analysis", "segment": "an3"},
      {"hour": 58.20, "dewpoint": 63.07, "series": "AR764 Analysis", "segment": "an3"},
      {"hour": 58.45, "dewpoint": 64.68, "series": "AR764 Analysis", "segment": "an3"},
      {"hour": 58.58, "dewpoint": 66.07, "series": "AR764 Analysis", "segment": "an3"},
      {"hour": 58.83, "dewpoint": 67.12, "series": "AR764 Analysis", "segment": "an3"},
      {"hour": 59.08, "dewpoint": 62.23, "series": "AR764 Analysis", "segment": "an3"},
      {"hour": 59.21, "dewpoint": 63.42, "series": "AR764 Analysis", "segment": "an3"},
      {"hour": 59.46, "dewpoint": 65.03, "series": "AR764 Analysis", "segment": "an3"},
      {"hour": 59.71, "dewpoint": 66.91, "series": "AR764 Analysis", "segment": "an3"},
      {"hour": 59.83, "dewpoint": 67.37, "series": "AR764 Analysis", "segment": "an3"},
      {"hour": 60.09, "dewpoint": 67.47, "series": "AR764 Analysis", "segment": "an3"},
      {"hour": 60.34, "dewpoint": 67.61, "series": "AR764 Analysis", "segment": "an3"},
      {"hour": 60.71, "dewpoint": 67.68, "series": "AR764 Analysis", "segment": "an3"},
      {"hour": 60.96, "dewpoint": 67.68, "series": "AR764 Analysis", "segment": "an3"}
    ],
    "sun": [
      {"hour": 0.88, "event": "Sunset"},
      {"hour": 11.79, "event": "Sunrise"},
      {"hour": 24.96, "event": "Sunset"},
      {"hour": 35.87, "event": "Sunrise"},
      {"hour": 48.92, "event": "Sunset"},
      {"hour": 59.83, "event": "Sunrise"}
    ]
  },
  "layer": [
    {
      "data": {"name": "dew"},
      "mark": {"type": "line", "strokeWidth": 1},
      "encoding": {
        "x": {"field": "hour", "type": "quantitative", "scale": {"domain": [0, 72], "nice": false, "zero": false},
          "axis": {"orient": "bottom", "title": null, "values": [0, 6, 12, 18, 24, 30, 36, 42, 48, 54, 60, 66, 72], "tickSize": -6, "labelPadding": 14, "labelLineHeight": 13, "labelFlush": false, "labelOverlap": false, "labelExpr": "['04/' + (24 + floor(datum.value / 24)), (datum.value % 24 < 10 ? '0' : '') + (datum.value % 24) + ':00']"}},
        "y": {"field": "dewpoint", "type": "quantitative", "scale": {"domain": [60, 74], "nice": false, "zero": false},
          "axis": {"orient": "left", "title": "degrees F", "values": [60, 62, 64, 66, 68, 70, 72, 74], "tickSize": -6, "labelPadding": 13, "titlePadding": 12, "labelFlush": false}},
        "color": {"field": "series", "type": "nominal", "scale": {"domain": ["AR764 Analysis", "AR764"], "range": ["#ff0000", "#0a84ff"]},
          "legend": {"orient": "none", "legendX": 541, "legendY": 3, "title": null, "symbolType": "M-2,0H2", "symbolSize": 196, "symbolStrokeWidth": 1, "labelAlign": "right", "labelOffset": -27, "labelFont": "DejaVu Sans Mono", "labelFontSize": 10, "labelColor": "black", "rowPadding": 0, "padding": 0}},
        "detail": {"field": "segment", "type": "nominal"}
      }
    },
    {
      "data": {"name": "sun"},
      "mark": {"type": "rule", "color": "black", "strokeWidth": 1.5},
      "encoding": {
        "x": {"field": "hour", "type": "quantitative", "axis": {"orient": "top", "title": null, "labels": false, "values": [0, 6, 12, 18, 24, 30, 36, 42, 48, 54, 60, 66, 72], "tickSize": -6}},
        "y": {"datum": 60, "type": "quantitative", "axis": {"orient": "right", "title": null, "labels": false, "values": [60, 62, 64, 66, 68, 70, 72, 74], "tickSize": -6}},
        "y2": {"datum": 72}
      }
    },
    {
      "data": {"name": "sun"},
      "mark": {"type": "text", "angle": 270, "align": "left", "baseline": "middle", "dx": 5, "font": "DejaVu Sans Mono", "fontSize": 10, "color": "black"},
      "encoding": {
        "x": {"field": "hour", "type": "quantitative", "axis": null},
        "y": {"datum": 72, "type": "quantitative", "axis": null},
        "text": {"field": "event"}
      }
    }
  ],
  "resolve": {"axis": {"x": "independent", "y": "independent"}}
}
